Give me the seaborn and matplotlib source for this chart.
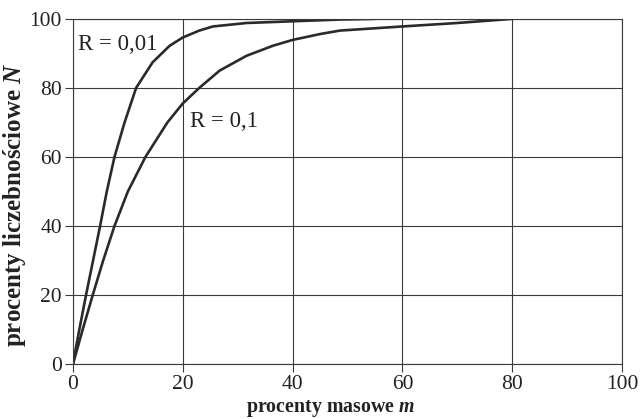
import pandas as pd
import matplotlib.pyplot as plt
import seaborn as sns

# curve R = 0,01
m_001 = [0, 1.16, 2.38, 3.66, 4.94, 6.16, 7.56, 9.4, 11.5, 14.5, 17.6, 20, 23, 25.5, 31.6, 40, 48.6, 55]
n_001 = [0, 10, 20, 30, 40, 50, 60, 70, 80, 87.4, 92.2, 94.6, 96.6, 97.8, 98.8, 99.3, 99.8, 100]

# curve R = 0,1
m_01 = [0, 1.77, 3.6, 5.5, 7.56, 10.0, 13.2, 17.2, 20, 23.0, 26.7, 31.6, 36.4, 40, 45, 48.6, 60, 70, 80]
n_01 = [0, 10, 20, 30, 40, 50, 60, 70, 75.5, 80, 85, 89.3, 92.2, 93.9, 95.6, 96.6, 97.8, 98.8, 100]

ticks = [0, 20, 40, 60, 80, 100]

df = pd.concat([
    pd.DataFrame({"m": m_001, "N": n_001, "R": "0,01"}),
    pd.DataFrame({"m": m_01, "N": n_01, "R": "0,1"}),
])

sns.set_style("white")
plt.rcParams['font.family'] = ['Liberation Serif', 'DejaVu Serif']
plt.rcParams['mathtext.fontset'] = 'custom'
plt.rcParams['mathtext.it'] = 'Liberation Serif:italic:bold'
plt.rcParams['mathtext.rm'] = 'Liberation Serif'

fig = plt.figure(figsize=(6.4, 4.19), dpi=100)
ax = fig.add_axes([0.114, 0.131, 0.858, 0.824])

sns.lineplot(data=df, x="m", y="N", hue="R", palette=["#2a2a2a", "#2a2a2a"],
             linewidth=1.9, legend=False, ax=ax, sort=False)

ax.set_xlim(0, 100)
ax.set_ylim(0, 100)
ax.set_xticks(ticks)
ax.set_yticks(ticks)
ax.grid(True, color="#3a3a3a", linewidth=0.8)
for s in ax.spines.values():
    s.set_color("#3a3a3a")
    s.set_linewidth(0.8)
ax.tick_params(axis="both", direction="out", length=6, width=0.8,
               color="#3a3a3a", labelsize=15.5, labelcolor="#222222", pad=2,
               bottom=True, left=True)

ax.text(1, 92.5, "R = 0,01", fontsize=16.5, color="#222222", va="center", ha="left")
ax.text(21.3, 70.2, "R = 0,1", fontsize=16.5, color="#222222", va="center", ha="left")

ax.set_xlabel("procenty masowe $m$", fontsize=14.3, fontweight="bold",
              color="#222222")
ax.set_ylabel("procenty liczebnościowe $N$", fontsize=18, fontweight="bold",
              color="#222222")
ax.xaxis.set_label_coords(0.468, -0.097)
ax.yaxis.set_label_coords(-0.082, 0.461)

fig.savefig("out.png", dpi=100)
